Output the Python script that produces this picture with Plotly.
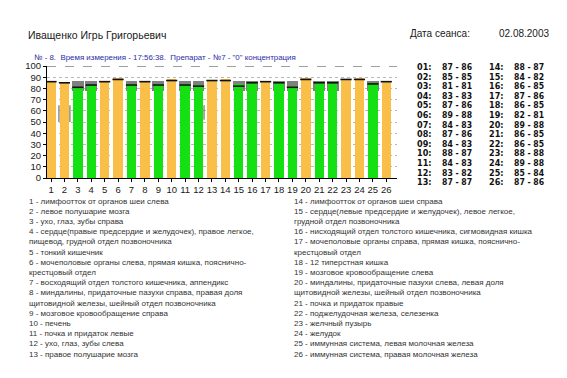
import plotly.graph_objects as go

# ---------------- data ----------------
channels = list(range(1, 27))
value_a = [87, 85, 81, 83, 87, 89, 84, 87, 84, 88, 84, 83, 87,
           88, 84, 86, 87, 86, 82, 89, 86, 86, 88, 89, 85, 87]
value_b = [86, 85, 81, 83, 86, 88, 83, 86, 83, 87, 83, 82, 87,
           87, 82, 85, 86, 85, 81, 88, 85, 85, 88, 88, 84, 86]
state = ["o", "o", "g", "g", "o", "o", "g", "o", "g", "o", "g", "g", "o",
         "o", "g", "g", "o", "g", "g", "o", "g", "g", "o", "o", "g", "o"]
norm_low, norm_high = 78, 86.5
# vertical markers: (channel, side, from, to)
markers = [(2, -1, 50, 65), (2, 1, 50, 65), (12, 1, 52, 65)]
y_ticks = list(range(0, 101, 10))

patient = "Иващенко Игрь Григорьевич"
date_label = "Дата сеанса:"
date_value = "02.08.2003"
subtitle = '№ - 8.  Время измерения - 17:56:38.  Препарат - №7 - "0" концентрация'

left_lines = [
    "1 - лимфоотток от органов шеи слева",
    "2 - левое полушарие мозга",
    "3 - ухо, глаз, зубы справа",
    "4 - сердце(правые предсердие и желудочек), правое легкое,",
    "пищевод, грудной отдел позвоночника",
    "5 - тонкий кишечник",
    "6 - мочеполовые органы слева, прямая кишка, пояснично-",
    "крестцовый отдел",
    "7 - восходящий отдел толстого кишечника, аппендикс",
    "8 - миндалины, придаточные пазухи справа, правая доля",
    "щитовидной железы, шейный отдел позвоночника",
    "9 - мозговое кровообращение справа",
    "10 - печень",
    "11 - почка и придаток левые",
    "12 - ухо, глаз, зубы слева",
    "13 - правое полушарие мозга",
]
right_lines = [
    "14 - лимфоотток от органов шеи справа",
    "15 - сердце(левые предсердие и желудочек), левое легкое,",
    "грудной отдел позвоночника",
    "16 - нисходящий отдел толстого кишечника, сигмовидная кишка",
    "17 - мочеполовые органы справа, прямая кишка, пояснично-",
    "крестцовый отдел",
    "18 - 12 типерстная кишка",
    "19 - мозговое кровообращение слева",
    "20 - миндалины, придаточные пазухи слева, левая доля",
    "щитовидной железы, шейный отдел позвоночника",
    "21 - почка и придаток правые",
    "22 - поджелудочная железа, селезенка",
    "23 - желчный пузырь",
    "24 - желудок",
    "25 - иммунная система, левая молочная железа",
    "26 - иммунная система, правая молочная железа",
]

# ---------------- layout helpers ----------------
W, H = 567, 378
PL, PR, PT, PB = 47, 397, 66, 178  # plot area in pixels
ORANGE = "#FABF48"
GREEN = "#14E014"
GRAY = "#808080"


def px(x):
    return (x - PL) / (PR - PL)


def py(y):
    return (PB - y) / (PB - PT)


fig = go.Figure()

green_x = [c for c, s in zip(channels, state) if s == "g"]
fig.add_trace(go.Bar(
    x=green_x, y=[norm_high - norm_low] * len(green_x), base=norm_low,
    width=0.88, marker=dict(color=GRAY, line=dict(width=0)),
    hoverinfo="skip", showlegend=False))

fig.add_trace(go.Bar(
    x=channels, y=value_a, width=0.7,
    marker=dict(color=[ORANGE if s == "o" else GREEN for s in state],
                line=dict(width=0)),
    showlegend=False))

fig.add_trace(go.Scatter(
    x=channels, y=value_b, mode="markers",
    marker=dict(symbol="line-ew", size=8, line=dict(width=1.6, color="#111111")),
    hoverinfo="skip", showlegend=False))

for ch, side, y0, y1 in markers:
    fig.add_trace(go.Scatter(
        x=[ch + side * 0.41] * 2, y=[y0, y1], mode="lines",
        line=dict(color="#707070", width=1.2),
        hoverinfo="skip", showlegend=False))

shapes = [dict(type="line", xref="paper", yref="y", x0=0, x1=1, y0=100, y1=100,
               line=dict(color="#404040", width=1, dash="dash"))]

ann = []
font_main = "Liberation Sans, Arial, sans-serif"
ann.append(dict(text=patient, x=px(26), y=py(35), xanchor="left", yanchor="middle",
                font=dict(size=10.5, color="#202020", family=font_main)))
ann.append(dict(text=date_label, x=px(408), y=py(34), xanchor="left", yanchor="middle",
                font=dict(size=10, color="#202020", family=font_main)))
ann.append(dict(text=date_value, x=px(497), y=py(34), xanchor="left", yanchor="middle",
                font=dict(size=10, color="#202020", family=font_main)))
ann.append(dict(text=subtitle, x=px(32), y=py(57), xanchor="left", yanchor="middle",
                font=dict(size=7.9, color="#2B2BA8", family=font_main)))

# right-hand table
for k in range(13):
    yy = py(67 + k * 9.6)
    for col, base_x in ((0, 415), (1, 487)):
        i = k + col * 13
        ann.append(dict(text=f"<b>{channels[i]:02d}:</b>", x=px(base_x), y=yy,
                        xanchor="left", yanchor="middle",
                        font=dict(size=9, color="#111111",
                                  family="DejaVu Sans Condensed, DejaVu Sans")))
        ann.append(dict(text=f"<b>{value_a[i]} - {value_b[i]}</b>", x=px(base_x + 25), y=yy,
                        xanchor="left", yanchor="middle",
                        font=dict(size=8.6, color="#111111",
                                  family="DejaVu Sans Condensed, DejaVu Sans")))

# description lines
for j, t in enumerate(left_lines):
    ann.append(dict(text=t, x=px(27), y=py(201 + j * 10.2), xanchor="left", yanchor="middle",
                    font=dict(size=8, color="#333333", family=font_main)))
for j, t in enumerate(right_lines):
    ann.append(dict(text=t, x=px(292), y=py(201 + j * 10.2), xanchor="left", yanchor="middle",
                    font=dict(size=8, color="#333333", family=font_main)))

for a in ann:
    a.update(xref="paper", yref="paper", showarrow=False)

fig.update_layout(
    width=W, height=H,
    margin=dict(l=PL, r=W - PR, t=PT, b=H - PB, pad=0),
    paper_bgcolor="white", plot_bgcolor="white",
    barmode="overlay", bargap=0,
    shapes=shapes, annotations=ann,
    xaxis=dict(range=[0.7, 26.8], tickmode="array", tickvals=channels,
               ticktext=[str(c) for c in channels],
               showgrid=False, zeroline=False,
               showline=True, linecolor="#000000", linewidth=1,
               ticks="outside", ticklen=3, tickcolor="#000000",
               tickfont=dict(size=9.5, color="#202020", family=font_main)),
    yaxis=dict(range=[0, 100], tickmode="array", tickvals=y_ticks,
               showgrid=True, gridcolor="#B8B8B8", griddash="dot", gridwidth=1,
               zeroline=False,
               showline=True, linecolor="#000000", linewidth=1,
               ticks="outside", ticklen=3, tickcolor="#000000",
               tickfont=dict(size=9.5, color="#202020", family=font_main)),
    font=dict(family=font_main),
)

fig.write_html("out.html", config={"displayModeBar": False},
               post_script="document.body.style.margin='0';document.body.style.overflow='hidden';")
